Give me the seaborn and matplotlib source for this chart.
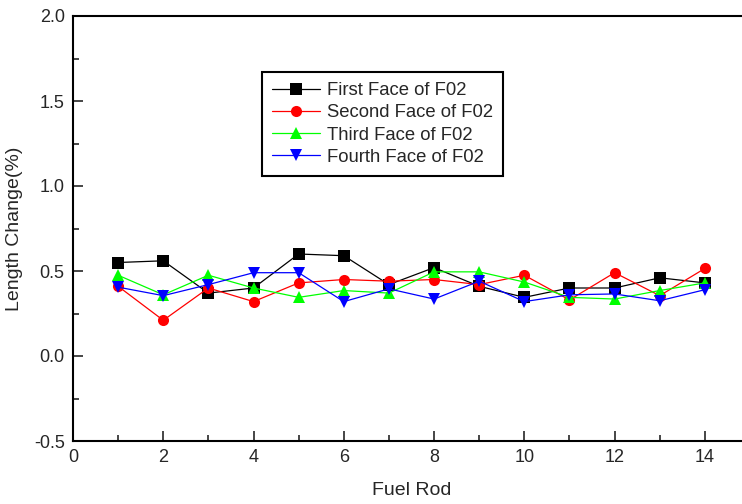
import numpy as np
import pandas as pd
import matplotlib
matplotlib.use("Agg")
import matplotlib.pyplot as plt
import seaborn as sns

# valores
fuel_rod = list(range(1, 15))
first_face = [0.55, 0.56, 0.37, 0.40, 0.60, 0.59, 0.42, 0.52, 0.41, 0.345, 0.40, 0.40, 0.46, 0.43]
second_face = [0.41, 0.21, 0.40, 0.32, 0.43, 0.45, 0.44, 0.45, 0.42, 0.475, 0.33, 0.49, 0.355, 0.515]
third_face = [0.475, 0.36, 0.475, 0.40, 0.345, 0.385, 0.37, 0.495, 0.495, 0.435, 0.345, 0.335, 0.385, 0.43]
fourth_face = [0.405, 0.355, 0.42, 0.49, 0.49, 0.32, 0.395, 0.335, 0.44, 0.32, 0.36, 0.365, 0.325, 0.39]

series_names = ["First Face of F02", "Second Face of F02", "Third Face of F02", "Fourth Face of F02"]
series_colors = ["black", "red", "#00ff00", "blue"]
series_markers = ["s", "o", "^", "v"]


def main():
    frames = []
    for name, vals in zip(series_names, [first_face, second_face, third_face, fourth_face]):
        frames.append(pd.DataFrame({"Fuel Rod": fuel_rod, "Length Change": vals, "Face": name}))
    df = pd.concat(frames, ignore_index=True)

    sns.set_style("ticks")
    plt.rcParams["font.family"] = ["Liberation Sans Narrow", "Liberation Sans", "DejaVu Sans"]

    fig = plt.figure(figsize=(7.42, 5.04), dpi=100)
    ax = fig.add_axes([73 / 742, 63 / 504, 677 / 742, 425 / 504])

    sns.lineplot(data=df, x="Fuel Rod", y="Length Change", hue="Face", style="Face",
                 palette=dict(zip(series_names, series_colors)),
                 markers=dict(zip(series_names, series_markers)),
                 dashes=False, linewidth=0.9, markersize=8, markeredgewidth=0,
                 ax=ax, legend=False)

    ax.set_xlim(0, 15)
    ax.set_ylim(-0.5, 2.0)
    ax.set_xticks(np.arange(0, 15, 2))
    ax.set_xticks(np.arange(1, 15, 2), minor=True)
    ax.set_yticks(np.arange(-0.5, 2.01, 0.5))
    ax.set_yticks(np.arange(-0.25, 2.0, 0.5), minor=True)
    ax.yaxis.set_major_formatter(matplotlib.ticker.FormatStrFormatter("%.1f"))
    ax.tick_params(axis="both", which="major", direction="in", length=7, width=1.2,
                   labelsize=13, pad=6)
    ax.tick_params(axis="both", which="minor", direction="in", length=4, width=1.2)

    for side in ["left", "bottom", "top"]:
        ax.spines[side].set_visible(True)
        ax.spines[side].set_linewidth(1.5)
        ax.spines[side].set_color("black")
    ax.spines["right"].set_visible(False)

    ax.set_xlabel("Fuel Rod", fontsize=14, labelpad=11)
    ax.set_ylabel("Length Change(%)", fontsize=14, labelpad=8)

    handles = [plt.Line2D([], [], color=c, marker=m, markersize=8, markeredgewidth=0, linewidth=0.9)
               for c, m in zip(series_colors, series_markers)]
    leg = ax.legend(handles, series_names, loc="upper left", bbox_to_anchor=(0.279, 0.868),
                    borderaxespad=0, fontsize=13.3, fancybox=False, framealpha=1,
                    edgecolor="black", handlelength=2.6, handletextpad=0.35,
                    labelspacing=0.28, borderpad=0.55)
    leg.get_frame().set_linewidth(1.5)

    fig.savefig("out.png", dpi=100)


if __name__ == "__main__":
    main()
